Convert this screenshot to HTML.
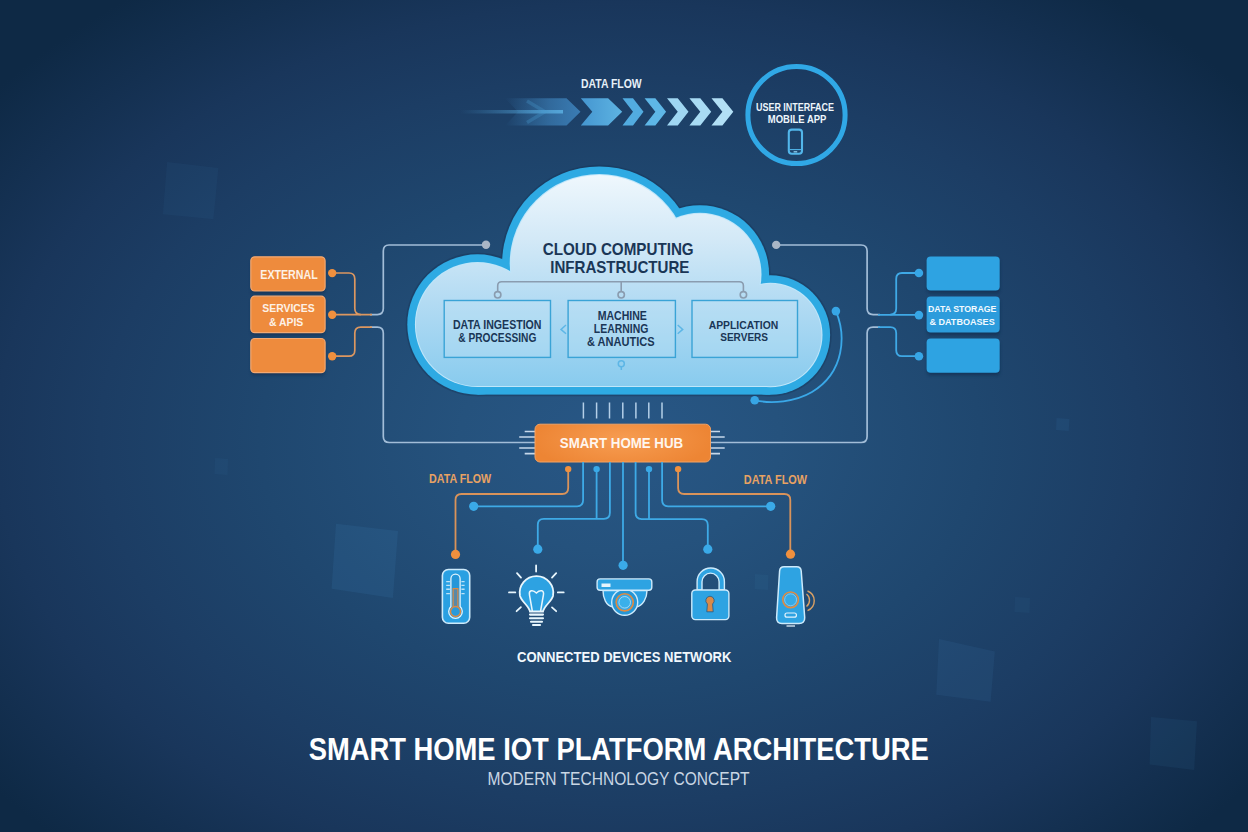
<!DOCTYPE html>
<html><head><meta charset="utf-8">
<style>
html,body{margin:0;padding:0;width:1248px;height:832px;overflow:hidden;background:#17375f;}
svg{display:block;}
text{font-family:"Liberation Sans",sans-serif;font-weight:bold;}
</style></head>
<body>
<svg width="1248" height="832" viewBox="0 0 1248 832">
<defs>
  <radialGradient id="bg" cx="620" cy="440" r="800" gradientUnits="userSpaceOnUse" gradientTransform="translate(620 440) scale(1 0.7) translate(-620 -440)">
    <stop offset="0" stop-color="#285786"/>
    <stop offset="0.2" stop-color="#25527d"/>
    <stop offset="0.45" stop-color="#1f476f"/>
    <stop offset="0.65" stop-color="#1c3d64"/>
    <stop offset="0.78" stop-color="#19365b"/>
    <stop offset="1" stop-color="#0e2945"/>
  </radialGradient>
  <linearGradient id="cloudfill" x1="0" y1="172" x2="0" y2="388" gradientUnits="userSpaceOnUse">
    <stop offset="0" stop-color="#f0f8fd"/>
    <stop offset="0.31" stop-color="#d3e9f7"/>
    <stop offset="0.6" stop-color="#b3dbf3"/>
    <stop offset="1" stop-color="#88cbee"/>
  </linearGradient>
</defs>
<rect width="1248" height="832" fill="url(#bg)"/>

<!-- faint background squares -->
<g fill="#3b7fb4">
  <polygon points="336,523.8 398,531 392.9,598 331.6,588.7" opacity="0.17"/>
  <polygon points="939,639 994.8,651.6 990.6,701.8 936.3,694.8" opacity="0.13"/>
  <polygon points="1151,717 1197,721.3 1194.2,770 1149.6,764.5" opacity="0.1"/>
  <polygon points="167.1,162 218.4,168 213.4,219.3 162.9,214.2" opacity="0.08"/>
  <polygon points="1056.5,418 1069.4,419 1068.8,431 1056,430" opacity="0.12"/>
  <polygon points="1015,597 1030,598 1029.5,613 1014.5,612" opacity="0.08"/>
  <polygon points="755,574 768.4,575 768,590 754.6,589" opacity="0.1"/>
  <polygon points="215,458 228,459 227.5,475 214.5,474" opacity="0.08"/>
</g>


<!-- connectors outside cloud (gray) -->
<g fill="none" stroke="#a2bdd8" stroke-width="1.7">
  <path d="M486 245 H389 Q383.3 245 383.3 251 V308.6 Q383.3 314.6 377.3 314.6 H370"/>
  <path d="M370 327.1 H377.3 Q383.3 327.1 383.3 333.1 V436.5 Q383.3 442.5 389.3 442.5 H535"/>
  <path d="M776 245 H861 Q867.1 245 867.1 251 V308.6 Q867.1 314.6 873.1 314.6 H880"/>
  <path d="M880 327.1 H873.1 Q867.1 327.1 867.1 333.1 V436.5 Q867.1 442.5 861.1 442.5 H710"/>
</g>
<g fill="#a9b6c6">
  <circle cx="486" cy="244.8" r="4.2"/>
  <circle cx="776.2" cy="244.9" r="4.2"/>
</g>
<!-- orange connectors left -->
<g fill="none" stroke="#dc9760" stroke-width="1.7">
  <path d="M332 273 H349 Q354.8 273 354.8 279 V308.6 Q354.8 314.6 360.8 314.6"/>
  <path d="M332 314.6 H372"/>
  <path d="M332 356.2 H349 Q354.8 356.2 354.8 350.2 V333.1 Q354.8 327.1 360.8 327.1 H372"/>
</g>
<g fill="#f0903e">
  <circle cx="332.2" cy="273.1" r="4.2"/>
  <circle cx="332.2" cy="314.8" r="4.2"/>
  <circle cx="332.2" cy="356.2" r="4.2"/>
</g>
<!-- blue connectors right -->
<g fill="none" stroke="#3fa9e6" stroke-width="1.8">
  <path d="M919 273 H902 Q896.2 273 896.2 279 V308.6 Q896.2 314.6 890.2 314.6"/>
  <path d="M919 314.8 H878"/>
  <path d="M919 356.2 H902 Q896.2 356.2 896.2 350.2 V333.1 Q896.2 327.1 890.2 327.1 H878"/>
</g>
<g fill="#37a6e6">
  <circle cx="918.9" cy="273" r="4.3"/>
  <circle cx="918.9" cy="315.1" r="4.3"/>
  <circle cx="918.9" cy="356.2" r="4.3"/>
</g>

<!-- CLOUD -->
<g id="cloud">
  <g fill="#173659" opacity="0.45">
    <circle cx="599.3" cy="263.6" r="98.8"/>
    <circle cx="699.9" cy="274.4" r="70.8"/>
    <circle cx="770.3" cy="335" r="61.4"/>
    <circle cx="477.5" cy="324.5" r="71.8"/>
    <rect x="477.5" y="300" width="292.8" height="96.2"/>
  </g>
  <g fill="#2eaae3">
    <circle cx="599.3" cy="263.6" r="97.2"/>
    <circle cx="699.9" cy="274.4" r="69.2"/>
    <circle cx="770.3" cy="335" r="59.8"/>
    <circle cx="477.5" cy="324.5" r="70.2"/>
    <rect x="477.5" y="300" width="292.8" height="94.6"/>
  </g>
  <g fill="#bfe6fa">
    <circle cx="599.3" cy="263.6" r="89.6"/>
    <circle cx="699.9" cy="274.4" r="61.6"/>
    <circle cx="770.3" cy="335" r="52.2"/>
    <circle cx="477.5" cy="324.5" r="62.6"/>
    <rect x="477.5" y="300" width="292.8" height="87.0"/>
  </g>
  <g fill="url(#cloudfill)">
    <circle cx="599.3" cy="263.6" r="88.6"/>
    <circle cx="699.9" cy="274.4" r="60.6"/>
    <circle cx="770.3" cy="335" r="51.2"/>
    <circle cx="477.5" cy="324.5" r="61.6"/>
    <rect x="477.5" y="300" width="292.8" height="86.0"/>
  </g>
</g>



<!-- cloud inner -->
<g fill="#1a3656">
  <text x="542.7" y="254.8" font-size="16.7" textLength="151" lengthAdjust="spacingAndGlyphs">CLOUD COMPUTING</text>
  <text x="550.2" y="273" font-size="16.7" textLength="139.2" lengthAdjust="spacingAndGlyphs">INFRASTRUCTURE</text>
</g>
<g fill="none" stroke="#8a9caf" stroke-width="1.6">
  <path d="M497.7 291.6 V285.7 Q497.7 281.7 501.7 281.7 H739.4 Q743.4 281.7 743.4 285.7 V291.6"/>
  <path d="M621.2 281.7 V291.6"/>
  <circle cx="497.7" cy="294.8" r="3.2"/>
  <circle cx="621.2" cy="294.8" r="3.2"/>
  <circle cx="743.4" cy="294.8" r="3.2"/>
</g>
<g fill="#c8e6f8" fill-opacity="0.25" stroke="#3aa3d6" stroke-width="1.4">
  <rect x="444.2" y="300.5" width="106.3" height="56.9"/>
  <rect x="568.1" y="300.5" width="107.3" height="56.9"/>
  <rect x="692" y="300.5" width="105.5" height="56.9"/>
</g>
<g fill="none" stroke="#5db6e6" stroke-width="1.5">
  <path d="M566 325 L561 329.4 L566 333.8"/>
  <path d="M677.7 325 L682.7 329.4 L677.7 333.8"/>
  <circle cx="621.3" cy="363.7" r="3"/>
  <path d="M621.3 366.7 V370"/>
</g>
<g fill="#1a3656">
  <text x="452.9" y="328.5" font-size="12" textLength="88.6" lengthAdjust="spacingAndGlyphs">DATA INGESTION</text>
  <text x="458.3" y="341.5" font-size="12" textLength="78" lengthAdjust="spacingAndGlyphs">&amp; PROCESSING</text>
  <text x="597.7" y="320" font-size="12.4" textLength="49.2" lengthAdjust="spacingAndGlyphs">MACHINE</text>
  <text x="593.8" y="332.9" font-size="12.4" textLength="54.5" lengthAdjust="spacingAndGlyphs">LEARNING</text>
  <text x="586.9" y="345.6" font-size="12.4" textLength="67.7" lengthAdjust="spacingAndGlyphs">&amp; ANAUTICS</text>
  <text x="708.7" y="328.5" font-size="11.7" textLength="69.5" lengthAdjust="spacingAndGlyphs">APPLICATION</text>
  <text x="720.2" y="341.4" font-size="11.7" textLength="47.9" lengthAdjust="spacingAndGlyphs">SERVERS</text>
</g>
<!-- arc right of cloud -->
<path d="M835.9 311.1 C846 335 845 372 812 392 C795 402 772 404 754.7 400.3" fill="none" stroke="#3aa8e8" stroke-width="1.8"/>
<g fill="#37a6e6">
  <circle cx="835.9" cy="311.1" r="4.3"/>
  <circle cx="754.7" cy="400.3" r="4.3"/>
</g>

<!-- left orange boxes -->
<defs><filter id="sh" x="-20%" y="-20%" width="140%" height="160%"><feGaussianBlur stdDeviation="1.6"/></filter></defs>
<g fill="#112a4c" opacity="0.55" filter="url(#sh)">
  <rect x="251" y="259.5" width="74" height="34.2" rx="4"/>
  <rect x="251" y="299" width="74" height="36.5" rx="4"/>
  <rect x="251" y="341.2" width="74" height="34.2" rx="4"/>
  <rect x="927" y="259.3" width="73" height="34" rx="4"/>
  <rect x="927" y="299.2" width="73" height="36.2" rx="4"/>
  <rect x="927" y="341.2" width="73" height="34.2" rx="4"/>
</g>
<g fill="#ee8b3d" stroke="#f2a872" stroke-width="1.2">
  <rect x="250.8" y="256.8" width="74.3" height="34.2" rx="4"/>
  <rect x="250.8" y="296.2" width="74.3" height="36.5" rx="4"/>
  <rect x="250.8" y="338.5" width="74.3" height="34.2" rx="4"/>
</g>
<g fill="#fdf1e6">
  <text x="260.3" y="278.9" font-size="13" textLength="57.4" lengthAdjust="spacingAndGlyphs">EXTERNAL</text>
  <text x="262.3" y="311.7" font-size="11.2" textLength="52.4" lengthAdjust="spacingAndGlyphs">SERVICES</text>
  <text x="269" y="326" font-size="11.2" textLength="34.3" lengthAdjust="spacingAndGlyphs">&amp; APIS</text>
</g>
<!-- right blue boxes -->
<g fill="#2ea3e2">
  <rect x="926.6" y="256.6" width="73.1" height="34" rx="4"/>
  <rect x="926.6" y="296.4" width="73.1" height="36.2" rx="4" fill="#2c9cdc"/>
  <rect x="926.6" y="338.5" width="73.1" height="34.2" rx="4"/>
</g>
<g fill="#f2faff">
  <text x="928" y="311.5" font-size="9.8" textLength="68.4" lengthAdjust="spacingAndGlyphs">DATA STORAGE</text>
  <text x="929.4" y="325" font-size="9.8" textLength="65.3" lengthAdjust="spacingAndGlyphs">&amp; DATBOASES</text>
</g>


<!-- top data flow -->
<defs>
  <linearGradient id="trail" x1="470" y1="0" x2="585" y2="0" gradientUnits="userSpaceOnUse">
    <stop offset="0" stop-color="#3a8fd0" stop-opacity="0"/>
    <stop offset="1" stop-color="#3a8fd0" stop-opacity="0.9"/>
  </linearGradient>
</defs>
<text x="581" y="88.2" font-size="13" fill="#e6f0f8" textLength="60.7" lengthAdjust="spacingAndGlyphs">DATA FLOW</text>
<defs>
  <linearGradient id="trail2" x1="505" y1="0" x2="580" y2="0" gradientUnits="userSpaceOnUse">
    <stop offset="0" stop-color="#3f86c0" stop-opacity="0"/>
    <stop offset="0.6" stop-color="#3f86c0" stop-opacity="0.6"/>
    <stop offset="1" stop-color="#3f86c0" stop-opacity="0.85"/>
  </linearGradient>
  <linearGradient id="trail3" x1="460" y1="0" x2="565" y2="0" gradientUnits="userSpaceOnUse">
    <stop offset="0" stop-color="#4a9ad0" stop-opacity="0"/>
    <stop offset="1" stop-color="#5aaee0" stop-opacity="0.9"/>
  </linearGradient>
  <linearGradient id="chA" x1="581" y1="0" x2="622" y2="0" gradientUnits="userSpaceOnUse">
    <stop offset="0" stop-color="#4596d0"/>
    <stop offset="1" stop-color="#5db3e2"/>
  </linearGradient>
</defs>
<path d="M505 98.2 H566.5 L580.5 111.8 L566.5 125.5 H505 L518 111.8 Z" fill="url(#trail2)"/>
<path d="M460 110 H563 V113.6 H460 Z" fill="url(#trail3)"/>
<path d="M527 101 L545 111.8 L527 122.6" fill="none" stroke="#4a9ad0" stroke-opacity="0.3" stroke-width="3.5"/>
<path d="M580.8 98.2 H608.1 L622.2 111.8 L608.1 125.5 H580.8 L592.3 111.8 Z" fill="url(#chA)"/>
<path d="M622.5 98.2 H633.0 L643.5 111.8 L633.0 125.5 H622.5 L633.0 111.8 Z" fill="#52ace0"/>
<path d="M644.6 98.2 H655.35 L666.1 111.8 L655.35 125.5 H644.6 L655.35 111.8 Z" fill="#5eb7e7"/>
<path d="M667 98.2 H677.75 L688.5 111.8 L677.75 125.5 H667 L677.75 111.8 Z" fill="#9fd6f2"/>
<path d="M689.4 98.2 H700.3 L711.1999999999999 111.8 L700.3 125.5 H689.4 L700.3 111.8 Z" fill="#a8dbf4"/>
<path d="M711.5 98.2 H722.4 L733.3 111.8 L722.4 125.5 H711.5 L722.4 111.8 Z" fill="#b2e0f6"/>
<!-- user interface circle -->
<circle cx="796.5" cy="115" r="48.6" fill="none" stroke="#30a8e6" stroke-width="5"/>
<g fill="#eef6fc">
  <text x="756" y="111.3" font-size="10.9" textLength="78" lengthAdjust="spacingAndGlyphs">USER INTERFACE</text>
  <text x="767.8" y="122.8" font-size="10.9" textLength="58.6" lengthAdjust="spacingAndGlyphs">MOBILE APP</text>
</g>
<rect x="788.8" y="129.6" width="13.2" height="24.2" rx="3" fill="none" stroke="#52b6ea" stroke-width="2.1"/>
<path d="M789.5 149.6 H801.3" stroke="#52b6ea" stroke-width="1.1"/>
<path d="M793.6 151.8 H797.2" stroke="#8fd0f2" stroke-width="1.3"/>

<!-- hub -->
<g stroke="#c6d8ea" stroke-width="1.6">
  <path d="M583.4 402.5 V418.6 M596.6 402.5 V418.6 M609.5 402.5 V418.6 M622.8 402.5 V418.6 M635.9 402.5 V418.6 M648.8 402.5 V418.6 M662 402.5 V418.6" stroke="#b4cfe8" stroke-width="1.5"/>
  <path d="M524.7 431.5 H536 M519.2 437 H536 M519.2 448 H536 M524.7 453.6 H536"/>
  <path d="M709 431.5 H720 M709 437 H724.7 M709 448 H724.7 M709 453.6 H720"/>
</g>
<defs><radialGradient id="hubg" cx="622" cy="440" r="90" gradientUnits="userSpaceOnUse" gradientTransform="translate(622 440) scale(1 0.35) translate(-622 -440)">
  <stop offset="0" stop-color="#f79d52"/><stop offset="1" stop-color="#ed8534"/></radialGradient></defs>
<rect x="535" y="424.2" width="175.5" height="37.8" rx="5" fill="url(#hubg)" stroke="#f4a262" stroke-width="1"/>
<text x="559.8" y="448" font-size="14.1" fill="#fff6ee" textLength="123.4" lengthAdjust="spacingAndGlyphs">SMART HOME HUB</text>

<!-- lower connectors -->
<g fill="none" stroke="#3eaae6" stroke-width="1.8">
  <path d="M583.1 462 V500.3 Q583.1 506.3 577.1 506.3 H473.7"/>
  <path d="M596.6 469 V518.8"/>
  <path d="M609.9 462 V512.8 Q609.9 518.8 603.9 518.8 H543.8 Q537.8 518.8 537.8 524.8 V549.2"/>
  <path d="M623 462 V565.3"/>
  <path d="M635.6 462 V513.1 Q635.6 519.1 641.6 519.1 H701.8 Q707.8 519.1 707.8 525.1 V549.2"/>
  <path d="M649 469 V519.1"/>
  <path d="M662.1 462 V500.3 Q662.1 506.3 668.1 506.3 H770.7"/>
</g>
<g fill="none" stroke="#d9935a" stroke-width="1.8">
  <path d="M568.2 469 V488 Q568.2 494 562.2 494 H461.5 Q455.5 494 455.5 500 V554.4"/>
  <path d="M678.1 469 V488 Q678.1 494 684.1 494 H784.3 Q790.3 494 790.3 500 V554"/>
</g>
<g fill="#3aaae8">
  <circle cx="596.6" cy="469.1" r="3.2"/>
  <circle cx="649" cy="469.1" r="3.2"/>
  <circle cx="473.7" cy="506.3" r="4.6"/>
  <circle cx="770.7" cy="506.3" r="4.6"/>
  <circle cx="537.8" cy="549.2" r="4.6"/>
  <circle cx="707.8" cy="549.2" r="4.6"/>
  <circle cx="623.1" cy="565.3" r="4.6"/>
</g>
<g fill="#f0903e">
  <circle cx="568.2" cy="469.1" r="3.2"/>
  <circle cx="678.1" cy="469.1" r="3.2"/>
  <circle cx="455.5" cy="554.4" r="4.6"/>
  <circle cx="790.5" cy="554.2" r="4.6"/>
</g>
<g fill="#e8a263">
  <text x="429" y="483" font-size="13" textLength="62.2" lengthAdjust="spacingAndGlyphs">DATA FLOW</text>
  <text x="743.8" y="483.5" font-size="13" textLength="63.2" lengthAdjust="spacingAndGlyphs">DATA FLOW</text>
</g>

<!-- titles -->
<text x="517" y="662.4" font-size="14.5" fill="#f2f8fd" textLength="214.4" lengthAdjust="spacingAndGlyphs">CONNECTED DEVICES NETWORK</text>
<text x="308.7" y="759.9" font-size="31" fill="#ffffff" textLength="620" lengthAdjust="spacingAndGlyphs">SMART HOME IOT PLATFORM ARCHITECTURE</text>
<text x="487.5" y="785" font-size="19" font-weight="normal" style="font-weight:normal" fill="#c9d6e4" textLength="262" lengthAdjust="spacingAndGlyphs">MODERN TECHNOLOGY CONCEPT</text>


<!-- devices -->
<!-- thermometer -->
<g>
  <rect x="442.4" y="569.5" width="27.3" height="53.7" rx="6" fill="#2aa0e2" stroke="#cdeafb" stroke-width="1.6"/>
  <path d="M450.9 606.5 V578.7 A4.6 4.6 0 0 1 460.1 578.7 V606.5 A6.8 6.8 0 1 1 450.9 606.5 Z" fill="#2596d8" stroke="#e2f4fd" stroke-width="1.3"/>
  <path d="M453.1 607 V588.6 H457.9 V607" fill="#b8744a" fill-opacity="0.35" stroke="#e08a40" stroke-width="1.2"/>
  <circle cx="455.5" cy="611.5" r="5" fill="#2a9ada" stroke="#e08a40" stroke-width="1.4"/>
  <path d="M446.2 581.6 H449.9 M446.2 585.4 H449.9 M446.2 589.2 H449.9 M446.2 593.6 H449.9 M461.4 581.6 H464.6 M461.4 585.4 H464.6 M461.4 589.2 H464.6 M461.4 593.6 H464.6" stroke="#bfe3f7" stroke-width="1.4"/>
</g>
<!-- bulb -->
<g stroke="#e8f6fd" stroke-width="1.8" stroke-linecap="round">
  <path d="M536.1 565.5 V571.5 M517 573.2 L521 577.6 M556.2 573.2 L552 577.6 M509 592.4 H515.3 M557.8 592.4 H563.7 M516.6 611.2 L520.9 607.2 M556.2 611.2 L552 607.4" fill="none"/>
  <path d="M530 611.5 C529 606 521.5 601.5 520 596 A16.8 16.8 0 1 1 553 596 C551.5 601.5 544 606 543 611.5 Z" fill="#2da2e2"/>
  <path d="M532.3 611 L529.5 595 C528.5 590 533 589.5 536.4 593 C540 589.5 544.5 590 543.4 595 L540.6 611" fill="none" stroke-width="1.5"/>
  <path d="M530 614.6 H543 M530 618.2 H543 M531 621.8 H542" fill="none" stroke-width="2.1"/>
  <path d="M533 625 H540" fill="none" stroke-width="2.2"/>
</g>
<!-- camera -->
<g stroke="#cdeafb" stroke-width="1.4">
  <path d="M603 590.5 C603 598 606 606 613 607 L636 607 C643 606 647 598 647 590.5 Z" fill="#2aa0e2"/>
  <circle cx="624.7" cy="602.2" r="13" fill="#2596d6"/>
  <rect x="597.1" y="578.9" width="54.7" height="11.4" rx="3" fill="#2ea3e2"/>
</g>
<circle cx="624.7" cy="602.3" r="8.6" fill="#34a8e8" stroke="#e08a40" stroke-width="1.6"/>
<circle cx="624.7" cy="602.3" r="5.8" fill="#3ab0ea" stroke="#bfe3f7" stroke-width="0.8"/>
<rect x="601.5" y="583.5" width="9" height="3.5" fill="#e6f4fc"/>
<!-- lock -->
<g stroke="#cdeafb" stroke-width="1.4">
  <path d="M697.1 590 V581.7 A13.65 13.65 0 0 1 724.4 581.7 V590 H719.1 V581.7 A8.55 8.55 0 0 0 702 581.7 V590 Z" fill="#2ea3e2"/>
  <rect x="691.8" y="590" width="37.1" height="29.6" rx="3.5" fill="#2ea3e2"/>
</g>
<path d="M710 596.2 A4.4 4.4 0 0 1 712.6 604 L713.2 611.8 H706.8 L707.4 604 A4.4 4.4 0 0 1 710 596.2 Z" fill="#d88a4a" stroke="#1f5a8a" stroke-width="0.8"/>
<!-- speaker -->
<path d="M784 566.8 H796.7 Q800.9 566.8 801.2 571 L804.7 617.5 Q804.9 623.6 799 623.6 H782 Q776.3 623.6 776.6 617.5 L779.6 571 Q779.9 566.8 784 566.8 Z" fill="#2ea3e2" stroke="#cdeafb" stroke-width="1.5"/>
<circle cx="790.6" cy="599.8" r="7.8" fill="#2a9ede" stroke="#df8c45" stroke-width="1.6"/>
<circle cx="790.6" cy="599.8" r="6" fill="#35aae8" stroke="#bfe3f7" stroke-width="0.6"/>
<rect x="785" y="613" width="11.4" height="4.2" rx="2" fill="none" stroke="#e4f4fd" stroke-width="1.2"/>
<path d="M786.5 626 H795" stroke="#c4d8e8" stroke-width="1.5"/>
<g fill="none" stroke="#d9a064" stroke-width="1.4">
  <path d="M806.5 594 A8 8 0 0 1 806.5 606.5"/>
  <path d="M807.5 591 A10.5 10.5 0 0 1 807.5 610.6"/>
</g>

</svg>
</body></html>
